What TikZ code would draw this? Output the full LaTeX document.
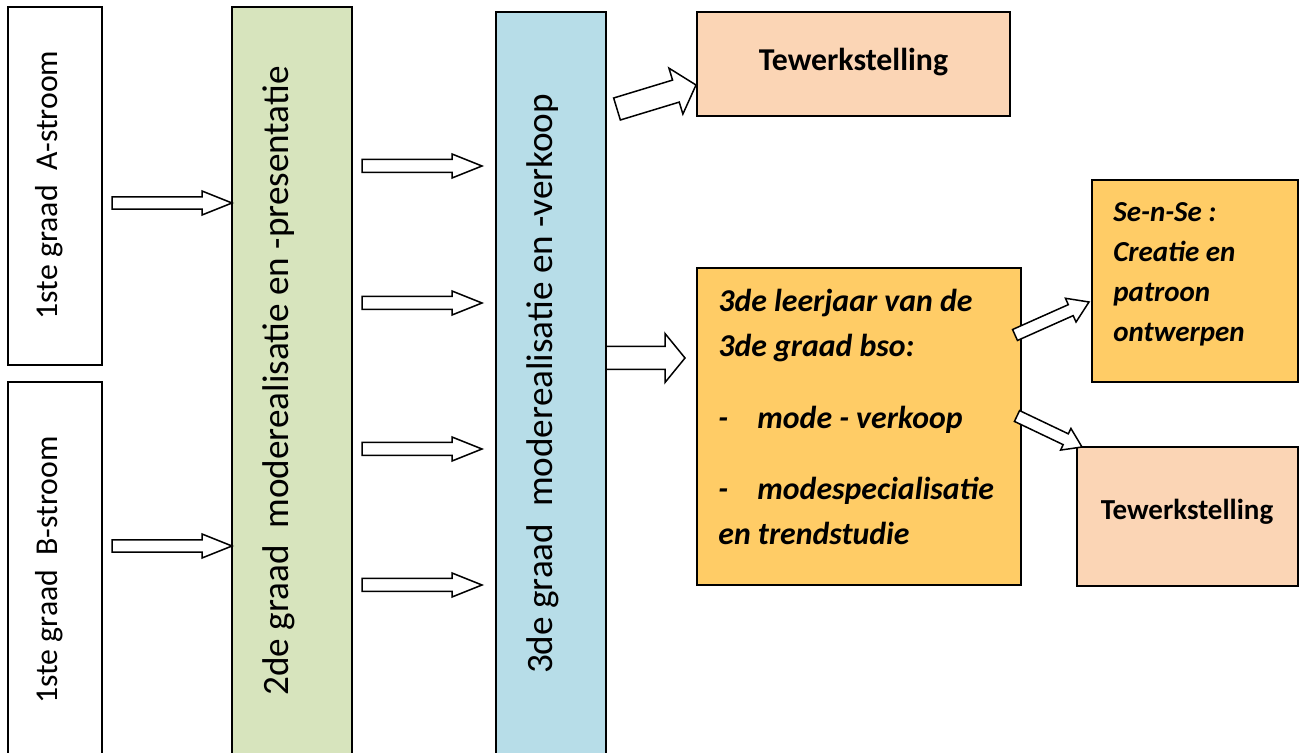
\documentclass[tikz,border=0pt]{standalone}
\usepackage{fontspec}
\setmainfont{Carlito}
\usetikzlibrary{calc}
\definecolor{graadgreen}{HTML}{D7E4BD}
\definecolor{graadblue}{HTML}{B7DDE8}
\definecolor{werkpeach}{HTML}{FBD5B5}
\definecolor{jaarorange}{HTML}{FFCC66}
\tikzset{boxed/.style={draw, line width=1pt, inner sep=0pt, outer sep=0pt},
  fat arrow/.style={draw, fill=white, line width=0.75pt, line join=miter},
  vertlabel/.style={rotate=90, inner sep=0pt},
  linelabel/.style={anchor=base west, inner sep=0pt}}
% tail, tip, shaft half width, head half width, head length
\newcommand{\fatarrow}[5]{%
  \coordinate (neck) at ($(#2)!#5!(#1)$);
  \draw[fat arrow] ($(#1)!#3!90:(#2)$) -- ($(neck)!#3!90:(#2)$)
    -- ($(neck)!#4!90:(#2)$) -- (#2) -- ($(neck)!#4!-90:(#2)$)
    -- ($(neck)!#3!-90:(#2)$) -- ($(#1)!#3!-90:(#2)$) -- cycle;}

\begin{document}
\begin{tikzpicture}[x=0.5pt, y=-0.5pt]
\useasboundingbox (0,0) rectangle (1302,753);
\clip (0,0) rectangle (1302,753);

% boxes
\node[boxed, minimum width=47pt, minimum height=179pt] (astroom) at (55,186) {};
\node[boxed, minimum width=47pt, minimum height=194pt] (bstroom) at (55,576) {};
\node[boxed, fill=graadgreen, minimum width=60pt, minimum height=381.5pt] (tweede) at (292,388.5) {};
\node[boxed, fill=graadblue, minimum width=55pt, minimum height=379pt] (derde) at (551,391) {};
\node[boxed, fill=werkpeach, minimum width=156.5pt, minimum height=52pt] (werktop) at (853.5,64) {};
\node[boxed, fill=jaarorange, minimum width=162pt, minimum height=158.5pt] (leerjaar) at (859,426.5) {};
\node[boxed, fill=jaarorange, minimum width=103pt, minimum height=101pt] (sense) at (1195,281) {};
\node[boxed, fill=werkpeach, minimum width=110.5pt, minimum height=69.5pt] (werkbot) at (1187.5,516.5) {};

% texts
\node[vertlabel, font=\fontsize{15.9}{19}\selectfont] (alabel) at (49,185) {1ste graad~ A-stroom};
\node[vertlabel, font=\fontsize{15.9}{19}\selectfont] (blabel) at (49,570) {1ste graad~ B-stroom};
\node[vertlabel, font=\fontsize{18.6}{22}\selectfont] (tweedelabel) at (279,381) {2de graad~ moderealisatie en -presentatie};
\node[vertlabel, font=\fontsize{18.6}{22}\selectfont] (derdelabel) at (543,384) {3de graad~ moderealisatie en -verkoop};
\node[anchor=base, inner sep=0pt, font=\fontsize{15.9}{19}\selectfont\bfseries] (werktoplabel) at (853.5,71) {Tewerkstelling};
\node[anchor=base, inner sep=0pt, font=\fontsize{14.5}{17}\selectfont\bfseries] (werkbotlabel) at (1187,520) {Tewerkstelling};

\begin{scope}[every node/.style={linelabel, font=\fontsize{15.9}{19}\selectfont\bfseries\itshape}]
\node (lj1) at (718,312) {3de leerjaar van de};
\node (lj2) at (718,357) {3de graad bso:};
\node (lj3) at (718,429) {\makebox[19.5pt][l]{-}mode - verkoop};
\node (lj4) at (718,500) {\makebox[19.5pt][l]{-}modespecialisatie};
\node (lj5) at (718,545) {en trendstudie};
\end{scope}
\begin{scope}[every node/.style={linelabel, font=\fontsize{14.5}{17}\selectfont\bfseries\itshape}]
\node (se1) at (1113,222) {Se-n-Se :};
\node (se2) at (1113,262) {Creatie en};
\node (se3) at (1113,302) {patroon};
\node (se4) at (1113,342) {ontwerpen};
\end{scope}

% arrows
\coordinate (fromA) at (112,203);
\coordinate (fromB) at (112,546);
\coordinate (toA) at (fromA -| tweede.west);
\coordinate (toB) at (fromB -| tweede.west);
\fatarrow{fromA}{toA}{3.1pt}{6pt}{15pt}
\fatarrow{fromB}{toB}{3.1pt}{6pt}{15pt}
\foreach \y [count=\i] in {166,303,449,585} {
  \coordinate (gtail\i) at (362,\y);
  \coordinate (gtip\i) at (482,\y);
  \fatarrow{gtail\i}{gtip\i}{3.25pt}{6pt}{15pt}
}
\coordinate (btail) at (derde.east |- 0,358);
\coordinate (btip) at (685,358);
\fatarrow{btail}{btip}{5.75pt}{12.25pt}{10pt}
\coordinate (wtail) at (617,109);
\coordinate (wtip) at (696,85);
\fatarrow{wtail}{wtip}{5.75pt}{12pt}{10.5pt}
\coordinate (stail) at (1015,335);
\coordinate (stip) at (1089,302);
\fatarrow{stail}{stip}{3pt}{6.5pt}{10pt}
\coordinate (ttail) at (1017,416);
\coordinate (ttip) at (1082,447);
\fatarrow{ttail}{ttip}{3pt}{6pt}{9pt}
\end{tikzpicture}
\end{document}
